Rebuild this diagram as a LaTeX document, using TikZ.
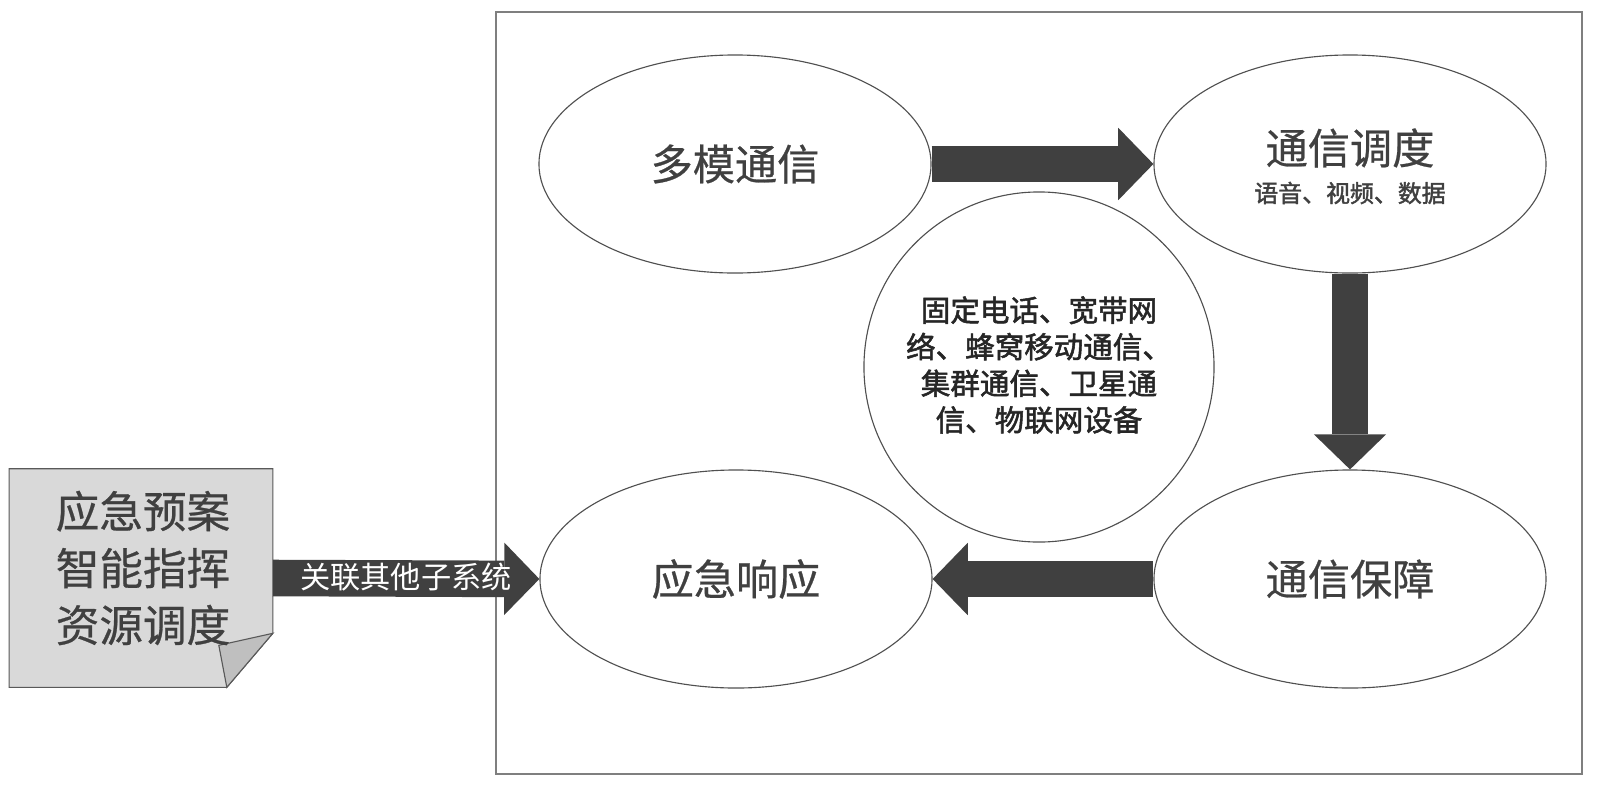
\documentclass[tikz,border=0pt]{standalone}
\usepackage{fontspec}
\newfontfamily\cjk{Noto Sans CJK SC}
\newfontfamily\cjkm[FakeBold=0.6]{Noto Sans CJK SC}
\newfontfamily\cjkb[FakeBold=1.8]{Noto Sans CJK SC}
\usetikzlibrary{shapes.geometric,arrows.meta,calc,backgrounds}
\definecolor{ink}{HTML}{404040}
\definecolor{edge}{HTML}{505050}
\definecolor{framec}{HTML}{7F7F7F}
\definecolor{notefill}{HTML}{D9D9D9}
\definecolor{foldfill}{HTML}{BFBFBF}
\definecolor{noteedge}{HTML}{595959}
\begin{document}
\begin{tikzpicture}[x=0.025cm,y=-0.025cm, font=\cjk,
  ell/.style={draw=edge, line width=0.8pt, ellipse, minimum width=9.8cm, minimum height=5.45cm, inner sep=0pt},
  circ/.style={draw=edge, line width=0.8pt, circle, minimum size=8.75cm, inner sep=0pt},
  title/.style={text=ink, font=\cjkm\fontsize{30}{36}\selectfont},
  subtitle/.style={text=ink, font=\cjkb\fontsize{17}{20}\selectfont},
  fat/.style={draw=ink, line width=25pt, -{Triangle[length=25pt,width=51.5pt,line width=0pt]}},
  frame/.style={draw=framec, line width=0.9pt},
  notebox/.style={draw=noteedge, fill=notefill, line width=0.8pt},
  foldbox/.style={draw=noteedge, fill=foldfill, line width=0.8pt},
]
\useasboundingbox (0,0) rectangle (1600,797);
\draw[frame] (496,12) rectangle (1582,774);

% ellipses
\node[ell] (e1) at (735,164) {};
\node[ell] (e2) at (1350,164) {};
\node[ell] (e3) at (736,579) {};
\node[ell] (e4) at (1350,579) {};
\node[circ] (c) at (1039,367) {};

\node[title] (t1) at (e1.center) {多模通信};
\node[title] (t2) at ($(e2.center)+(0,-16)$) {通信调度};
\node[subtitle] (s2) at ($(e2.center)+(0,29)$) {语音、视频、数据};
\node[title] (t3) at (e3.center) {应急响应};
\node[title] (t4) at (e4.center) {通信保障};
\node[text=black!85, align=center, font=\cjkb\fontsize{21}{26}\selectfont] (ct) at ($(c.center)+(0,-2)$)
  {固定电话、宽带网\\络、蜂窝移动通信、\\集群通信、卫星通\\信、物联网设备};

% note
\node[minimum width=6.575cm, minimum height=5.45cm, inner sep=0pt] (note) at (141,578) {};
\begin{scope}[on background layer]
\filldraw[notebox] (note.north west) -- (note.north east) -- ($(note.south east)+(0,-54)$)
  -- ($(note.south east)+(-46,0)$) -- (note.south west) -- cycle;
\filldraw[foldbox] ($(note.south east)+(0,-54)$) -- ($(note.south east)+(-46,0)$)
  -- ($(note.south east)+(-54,-42)$) -- cycle;
\end{scope}
\node[text=ink, align=center, font=\cjkm\fontsize{31}{40.5}\selectfont] (nt) at ($(note.center)+(2,-10)$)
  {应急预案\\智能指挥\\资源调度};

% arrows
\draw[fat] (e1.east) -- (e2.west);
\draw[fat] (e2.south) -- (e4.north);
\draw[fat] (e4.west) -- (e3.east);
\draw[fat, line width=26pt] (note.east) -- (e3.west);
\node[text=white, font=\cjk\fontsize{21.5}{24}\selectfont] (lbl) at ($(note.east)!0.5!(e3.west)+(0,-1)$) {关联其他子系统};
\end{tikzpicture}
\end{document}
